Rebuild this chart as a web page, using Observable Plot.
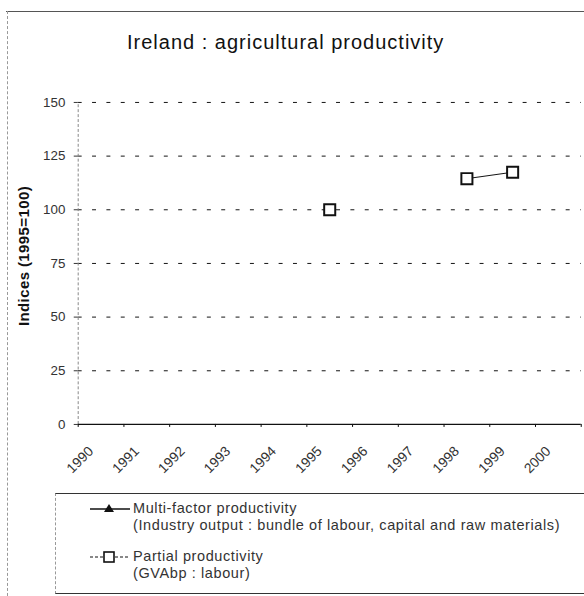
<!DOCTYPE html>
<html>
<head>
<meta charset="utf-8">
<script src="https://cdn.jsdelivr.net/npm/d3@7"></script>
<script src="https://cdn.jsdelivr.net/npm/@observablehq/plot@0.6"></script>
<style>
  html, body { margin: 0; padding: 0; background: #fff; overflow: hidden; }
  #wrap { position: relative; width: 584px; height: 596px; overflow: hidden; font-family: "Liberation Sans", Arial, sans-serif; }
  #chart { position: absolute; left: 0; top: 0; }
  .abs { position: absolute; white-space: nowrap; }
  #title { left: 127px; top: 31px; font-size: 20px; letter-spacing: 1px; color: #111; }
  #ylab { left: 23px; top: 256px; font-size: 15px; letter-spacing: 0.4px; font-weight: bold; color: #111;
          transform: translate(-50%, -50%) rotate(-90deg); }
  #frameTop { left: 6px; top: 11px; width: 580px; height: 0; border-top: 1px solid #555; }
  #frameLeft { left: 7px; top: 11px; width: 0; height: 590px; border-left: 1px dashed #999; }
  #legend { left: 55px; top: 493px; width: 540px; height: 99px; border-top: 1px solid #333; border-bottom: 1px solid #333; border-left: 1px dashed #999; }
  .lt { font-size: 14.5px; letter-spacing: 0.6px; color: #333; left: 133px; }
  .sym { left: 88px; }
</style>
</head>
<body>
<div id="wrap">
  <div id="frameTop" class="abs"></div>
  <div id="frameLeft" class="abs"></div>
  <div id="chart"></div>
  <div id="title" class="abs">Ireland : agricultural productivity</div>
  <div id="ylab" class="abs">Indices (1995=100)</div>
  <div id="legend" class="abs"></div>
  <svg class="abs sym" style="top:501px" width="44" height="16">
    <line x1="2" y1="8" x2="42" y2="8" stroke="#111" stroke-width="1.5"/>
    <path d="M21 3 L26 11 L16 11 Z" fill="#111"/>
  </svg>
  <div class="abs lt" style="top:500px">Multi-factor productivity</div>
  <div class="abs lt" style="top:517px">(Industry output : bundle of labour, capital and raw materials)</div>
  <svg class="abs sym" style="top:549px" width="44" height="16">
    <line x1="2" y1="8" x2="42" y2="8" stroke="#111" stroke-width="1" stroke-dasharray="3,2"/>
    <rect x="16" y="3" width="10" height="10" fill="#fff" stroke="#111" stroke-width="1.6"/>
  </svg>
  <div class="abs lt" style="top:548px">Partial productivity</div>
  <div class="abs lt" style="top:565px">(GVAbp : labour)</div>
</div>
<script>
// Data
const years = [1990, 1991, 1992, 1993, 1994, 1995, 1996, 1997, 1998, 1999, 2000];
const multiFactor = [null, null, null, null, null, null, null, null, null, null, null];
const partial = [null, null, null, null, null, 100, null, null, 114.5, 117.5, null];
const yTicks = [0, 25, 50, 75, 100, 125, 150];

const partialData = years.map((y, i) => ({year: y, value: partial[i]}));
const multiData = years.map((y, i) => ({year: y, value: multiFactor[i]}));
const boundaries = years.map(y => y - 0.5).concat([years[years.length - 1] + 0.5]);

const chart = Plot.plot({
  width: 590,
  height: 596,
  marginLeft: 78.5,
  marginRight: 3.3,
  marginTop: 103,
  marginBottom: 167.7,
  style: {fontFamily: "'Liberation Sans', Arial, sans-serif", background: "transparent", overflow: "visible"},
  x: {type: "linear", domain: [years[0] - 0.5, years[years.length - 1] + 0.5]},
  y: {domain: [0, 150]},
  marks: [
    Plot.ruleY(yTicks.filter(d => d > 0), {stroke: "#111", strokeWidth: 1, strokeDasharray: "4,10.5"}),
    Plot.ruleX([years[0] - 0.5], {y1: 0, y2: 150, stroke: "#888", strokeDasharray: "3,2"}),
    Plot.axisY({ticks: yTicks, tickSize: 4, tickPadding: 9, fontSize: 13.5, label: null, color: "#333"}),
    Plot.axisX({ticks: boundaries, tickFormat: () => "", tickSize: 3, label: null}),
    Plot.ruleY([0], {stroke: "#111", strokeWidth: 1.2}),
    Plot.text(years, {x: d => d, y: 0, text: d => String(d), rotate: -45, textAnchor: "end",
      lineAnchor: "bottom", dx: -7, dy: 28, fontSize: 14, fill: "#333"}),
    Plot.line(multiData, {x: "year", y: "value", stroke: "#111", strokeWidth: 1.5}),
    Plot.dot(multiData.filter(d => d.value != null), {x: "year", y: "value", symbol: "triangle", fill: "#111", r: 4}),
    Plot.line(partialData, {x: "year", y: "value", stroke: "#111", strokeWidth: 1}),
    Plot.dot(partialData.filter(d => d.value != null), {x: "year", y: "value", symbol: "square", r: 6.3, fill: "#fff", stroke: "#111", strokeWidth: 2})
  ]
});
document.getElementById("chart").appendChild(chart);
</script>
</body>
</html>
